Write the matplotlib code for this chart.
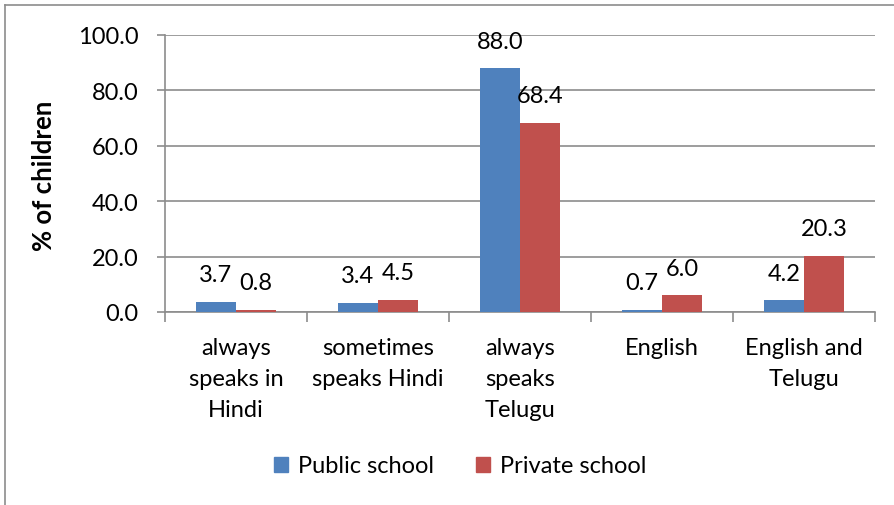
import matplotlib.pyplot as plt
from matplotlib.lines import Line2D
import numpy as np

plt.rcParams['font.family'] = ['Lato', 'DejaVu Sans']

categories = ['always\nspeaks in\nHindi', 'sometimes\nspeaks Hindi', 'always\nspeaks\nTelugu',
              'English', 'English and\nTelugu']
public_school = [3.7, 3.4, 88.0, 0.7, 4.2]
private_school = [0.8, 4.5, 68.4, 6.0, 20.3]
series_names = ['Public school', 'Private school']
yticks = [0, 20, 40, 60, 80, 100]

blue = '#4F81BD'
red = '#C0504D'
grid_col = '#8C8C8C'
fs = 17

fig = plt.figure(figsize=(8.95, 5.06), dpi=100)
ax = fig.add_axes([165 / 895, 193 / 506, 710 / 895, 277 / 506])

x = np.arange(len(categories))
w = 0.285
b1 = ax.bar(x - w / 2, public_school, w, color=blue, label=series_names[0], zorder=3)
b2 = ax.bar(x + w / 2, private_school, w, color=red, label=series_names[1], zorder=3)

for bars, vals in [(b1, public_school), (b2, private_school)]:
    for rect, v in zip(bars, vals):
        ax.annotate(f'{v:.1f}', (rect.get_x() + rect.get_width() / 2, v),
                    xytext=(0, 19.5), textcoords='offset points',
                    ha='center', va='center', fontsize=fs)

ax.set_xlim(-0.5, len(categories) - 0.5)
ax.set_ylim(0, 100)
ax.set_yticks(yticks)
ax.set_yticklabels([f'{t:.1f}' for t in yticks], fontsize=fs)
ax.yaxis.grid(True, color=grid_col, linewidth=1.2, zorder=0)
ax.tick_params(axis='y', length=6, color=grid_col, width=1.2, pad=13)

# category boundaries carry the tick marks, labels sit at the centres
ax.set_xticks(np.arange(len(categories) + 1) - 0.5)
ax.set_xticklabels([])
ax.tick_params(axis='x', length=7, color=grid_col, width=1.2)
for xi, lab in zip(x, categories):
    ax.text(xi, -0.09, lab, transform=ax.get_xaxis_transform(), ha='center', va='top',
            fontsize=fs, linespacing=1.6)

for s in ['top', 'right']:
    ax.spines[s].set_visible(False)
for s in ['left', 'bottom']:
    ax.spines[s].set_color(grid_col)
    ax.spines[s].set_linewidth(1.2)

fig.text(44 / 895, 1 - 176 / 506, '% of children', rotation=90, ha='center', va='center',
         fontsize=18.5, fontweight='bold')

handles = [plt.Rectangle((0, 0), 1, 1, color=blue), plt.Rectangle((0, 0), 1, 1, color=red)]
fig.legend(handles, series_names, loc='center', bbox_to_anchor=(460 / 895, 1 - 467 / 506),
           ncol=2, frameon=False, fontsize=fs, handlelength=0.6, handleheight=0.6,
           handletextpad=0.4, columnspacing=1.8)

# chart area border (left and top edges)
fig.add_artist(Line2D([5 / 895, 5 / 895], [0, 1 - 6 / 506], color='#8C8C8C', linewidth=1.2))
fig.add_artist(Line2D([5 / 895, 1], [1 - 6 / 506, 1 - 6 / 506], color='#8C8C8C', linewidth=1.2))

fig.savefig('out.png', dpi=100)
